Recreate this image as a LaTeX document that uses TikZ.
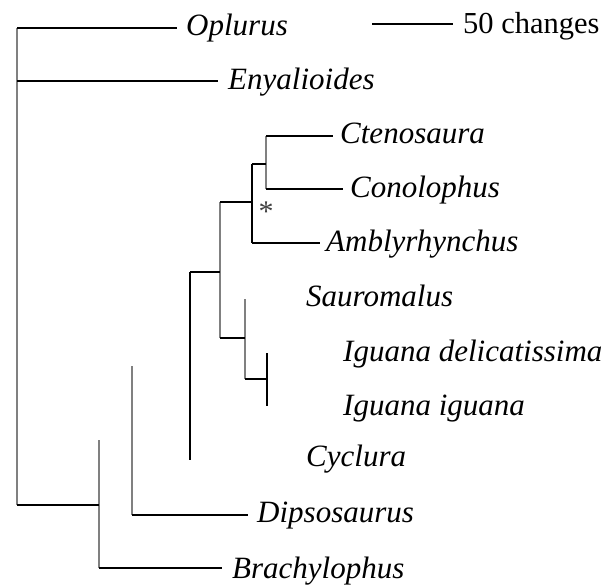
\documentclass[tikz,border=0pt]{standalone}
\usepackage{fontspec}
\setmainfont{Liberation Serif}
\begin{document}
\begin{tikzpicture}[x=1pt,y=-1pt,
  hline/.style={draw=black,line width=1.8pt},
  vgray/.style={draw=black!50,line width=2.4pt},
  vblack/.style={draw=black,line width=1.6pt},
  lab/.style={anchor=base west,inner sep=0pt,font=\fontsize{31}{36}\selectfont\itshape},
  sbtext/.style={anchor=base west,inner sep=0pt,font=\fontsize{30.5}{36}\selectfont}]
\useasboundingbox (0,0) rectangle (608,587);
% internal node coordinates
\coordinate (rtop) at (17,28);
\coordinate (rbot) at (17,505);
\coordinate (nB) at (99,505);
\coordinate (nBtop) at (99,440);
\coordinate (nD) at (132,366);
\coordinate (nC) at (190,460);
\coordinate (nCtop) at (190,272);
\coordinate (nI) at (220,272);
\coordinate (nIbot) at (220,338);
\coordinate (nA) at (220,202);
\coordinate (nAm) at (252,202);
\coordinate (nAmtop) at (252,164);
\coordinate (nAmbot) at (252,243);
\coordinate (nCC) at (266,164);
\coordinate (nCCtop) at (266,136);
\coordinate (nCCbot) at (266,189);
\coordinate (nS) at (245,338);
\coordinate (nStop) at (245,299);
\coordinate (nSbot) at (245,379);
\coordinate (nIg) at (267,379);
\coordinate (nIgtop) at (267,353);
\coordinate (nIgbot) at (267,406);
% tips
\coordinate (tOpl) at (177,28);
\coordinate (tEny) at (218,81);
\coordinate (tBra) at (222,568);
\coordinate (tDip) at (248,515);
\coordinate (tCte) at (333,136);
\coordinate (tCon) at (343,189);
\coordinate (tAmb) at (320,243);
% vertical lines
\draw[vgray] (rtop) -- (rbot);
\draw[vgray] (nBtop) -- (nB |- tBra);
\draw[vgray] (nD) -- (nD |- tDip);
\draw[vblack] (nCtop) -- (nC);
\draw[vgray] (nA) -- (nIbot);
\draw[vblack] (nAmtop) -- (nAmbot);
\draw[vgray] (nCCtop) -- (nCCbot);
\draw[vgray] (nStop) -- (nSbot);
\draw[draw=black,line width=1.3pt] (nIgtop) -- (nIgbot);
% horizontal lines
\draw[hline] (rtop) -- (tOpl);
\draw[hline] (rtop |- tEny) -- (tEny);
\draw[hline] (rbot) -- (nB);
\draw[hline] (nB |- tBra) -- (tBra);
\draw[hline] (nD |- tDip) -- (tDip);
\draw[hline] (nCtop) -- (nI);
\draw[hline] (nA) -- (nAm);
\draw[hline] (nAmtop) -- (nCC);
\draw[hline] (nCCtop) -- (tCte);
\draw[hline] (nCCbot) -- (tCon);
\draw[hline] (nAmbot) -- (tAmb);
\draw[hline] (nIbot) -- (nS);
\draw[hline] (nSbot) -- (nIg);
% labels
\node[lab] (Lopl) at (186,35) {Oplurus};
\node[lab] (Leny) at (228,89) {Enyalioides};
\node[lab] (Lcte) at (340,143) {Ctenosaura};
\node[lab] (Lcon) at (350,197) {Conolophus};
\node[lab] (Lamb) at (326,251) {Amblyrhynchus};
\node[lab] (Lsau) at (306,306) {Sauromalus};
\node[lab] (Ldel) at (343,361) {Iguana delicatissima};
\node[lab] (Ligu) at (343,415) {Iguana iguana};
\node[lab] (Lcyc) at (306,466) {Cyclura};
\node[lab] (Ldip) at (257,522) {Dipsosaurus};
\node[lab] (Lbra) at (232,578) {Brachylophus};
% asterisk
\node[inner sep=0pt,text=black!75,font=\fontsize{30}{30}\selectfont] (ast) at (266,212) {*};
% scale bar
\coordinate (sbl) at (372,24);
\coordinate (sbr) at (453,24);
\draw[hline] (sbl) -- (sbr);
\node[sbtext] (sbl50) at (463,33) {50 changes};
\end{tikzpicture}
\end{document}
